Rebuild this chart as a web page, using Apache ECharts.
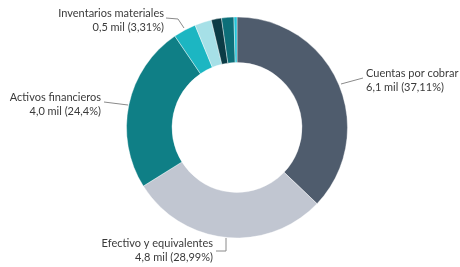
<!DOCTYPE html>
<html>
<head>
<meta charset="utf-8">
<script src="https://cdn.jsdelivr.net/npm/echarts@6/dist/echarts.min.js"></script>
<style>
  html, body { margin: 0; padding: 0; background: #fff; }
  #chart { width: 460px; height: 267px; }
</style>
</head>
<body>
<div id="chart"></div>
<script>
// categories in clockwise order, starting at 12 o'clock
var names = ['Cuentas por cobrar', 'Efectivo y equivalentes', 'Activos financieros', 'Inventarios materiales', 'Otros 1', 'Otros 2', 'Otros 3', 'Otros 4'];
var shares = [37.11, 28.99, 24.4, 3.31, 2.45, 1.5, 1.8, 0.44];
var amounts = ['6,1', '4,8', '4,0', '0,5', '', '', '', ''];
var shareText = ['37,11%', '28,99%', '24,4%', '3,31%', '', '', '', ''];
var colors = ['#4f5c6d', '#c1c6d1', '#0f7f86', '#1cb6c2', '#a6e0e7', '#0b3b45', '#0d6f79', '#22c4d8'];

// where each visible label sits (x, y, align) and its leader line
var labelPos = {
  0: { x: 366, y: 80, align: 'left', line: [[341, 84], [363, 78]] },
  1: { x: 213, y: 250, align: 'right', line: [[226, 238], [226, 251], [216, 251]] },
  2: { x: 101, y: 104, align: 'right', line: [[128, 105], [104, 102]] },
  3: { x: 164, y: 20, align: 'right', line: [[184, 28], [178, 19], [166, 18]] }
};

var chart = echarts.init(document.getElementById('chart'));

var data = names.map(function (n, i) {
  return {
    name: n,
    value: shares[i],
    itemStyle: { color: colors[i] },
    label: { show: i < 4 },
    labelLine: { show: i < 4 }
  };
});

chart.setOption({
  animation: false,
  series: [{
    type: 'pie',
    center: [237, 127.5],
    radius: [65, 110.5],
    startAngle: 90,
    clockwise: true,
    avoidLabelOverlap: false,
    itemStyle: { borderColor: '#fff', borderWidth: 0.4 },
    label: {
      position: 'outside',
      fontFamily: 'Lato',
      fontSize: 11,
      lineHeight: 14,
      color: '#3a3a3a',
      formatter: function (p) {
        var i = p.dataIndex;
        return names[i] + '\n' + amounts[i] + ' mil (' + shareText[i] + ')';
      }
    },
    labelLine: {
      lineStyle: { color: '#8a8a8a', width: 1 }
    },
    labelLayout: function (p) {
      var pos = labelPos[p.dataIndex];
      if (!pos) return {};
      return {
        x: pos.x,
        y: pos.y,
        align: pos.align,
        verticalAlign: 'middle',
        labelLinePoints: pos.line
      };
    },
    data: data
  }]
});
</script>
</body>
</html>
